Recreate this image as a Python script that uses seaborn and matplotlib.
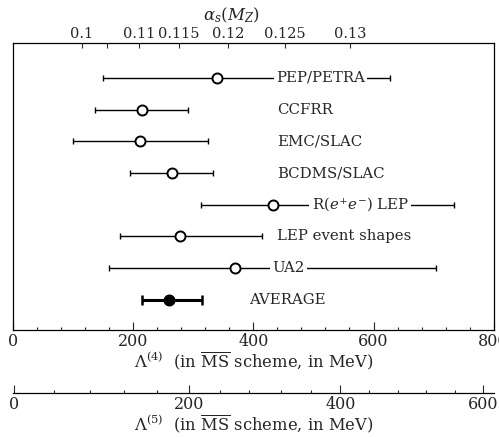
import numpy as np
import pandas as pd
import matplotlib
matplotlib.use("Agg")
import matplotlib.pyplot as plt
from matplotlib.ticker import MultipleLocator, FixedLocator, NullFormatter
import seaborn as sns

sns.set_style("white")
plt.rcParams["font.family"] = ["DejaVu Serif"]
plt.rcParams["mathtext.fontset"] = "dejavuserif"

# ---- data (Lambda^(4) in MeV) ----
experiments = ["PEP/PETRA", "CCFRR", "EMC/SLAC", "BCDMS/SLAC",
               r"R($e^{+}e^{-}$) LEP", "LEP event shapes", "UA2", "AVERAGE"]
central = [340, 214, 211, 264, 432, 277, 369, 260]
lower = [149, 136, 99, 195, 312, 178, 160, 214]
upper = [627, 291, 325, 333, 734, 415, 704, 315]
label_x = [438, 440, 440, 440, 497, 440, 432, 393]

# top axis: alpha_s(M_Z) ticks and their Lambda^(4) positions
alpha_ticks = [0.1, 0.105, 0.11, 0.115, 0.12, 0.125, 0.13]
alpha_labels = ["0.1", "", "0.11", "0.115", "0.12", "0.125", "0.13"]
alpha_pos = [114, 156, 210, 275.5, 358, 453, 561]

# Lambda^(5) axis ticks and Lambda^(4) positions
lam5_major = [0, 200, 400, 600]
lam5_major_pos = [1, 292, 545, 782]
lam5_minor_pos = [68, 128, 185, 239, 345, 393, 446, 496, 593, 640, 688, 735]

df = pd.DataFrame({"exp": experiments, "c": central, "lo": lower, "hi": upper,
                   "pos": np.arange(len(experiments))})
df["kind"] = ["open"] * 7 + ["avg"]

fig = plt.figure(figsize=(4.99, 4.37), dpi=100)
ax = fig.add_axes([0.027, 0.2449, 0.962, 0.6567])

reg = df[df.kind == "open"]
avg = df[df.kind == "avg"]

ax.errorbar(reg.c, reg.pos, xerr=[reg.c - reg.lo, reg.hi - reg.c], fmt="none",
            ecolor="black", elinewidth=1.0, capsize=2.2, capthick=1.0, zorder=1)
ax.errorbar(avg.c, avg.pos, xerr=[avg.c - avg.lo, avg.hi - avg.c], fmt="none",
            ecolor="black", elinewidth=2.2, capsize=3.5, capthick=1.8, zorder=1)

sns.scatterplot(data=reg, x="c", y="pos", ax=ax, marker="o", s=52,
                facecolor="white", edgecolor="black", linewidth=1.4, zorder=3,
                legend=False)
sns.scatterplot(data=avg, x="c", y="pos", ax=ax, marker="o", s=52,
                color="black", edgecolor="black", linewidth=1.4, zorder=3,
                legend=False)

for i, (lab, lx) in enumerate(zip(experiments, label_x)):
    ax.text(lx, i, lab, ha="left", va="center", fontsize=10.7,
            bbox=dict(boxstyle="square,pad=0.15", fc="white", ec="none"), zorder=2)

ax.set_xlim(0, 800)
ax.set_ylim(7.95, -1.1)
ax.set_yticks([])
ax.set_ylabel("")
ax.xaxis.set_major_locator(MultipleLocator(200))
ax.xaxis.set_minor_locator(MultipleLocator(40))
ax.tick_params(axis="x", which="major", direction="in", length=5.5, width=0.8,
               bottom=True, top=False, labelsize=11.5, pad=2)
ax.tick_params(axis="x", which="minor", direction="in", length=2.2, width=0.8,
               bottom=True, top=False)
ax.set_xlabel(r"$\Lambda^{(4)}$  (in $\overline{\mathrm{MS}}$ scheme, in MeV)",
              fontsize=11.8, labelpad=0)
for sp in ax.spines.values():
    sp.set_color("black")
    sp.set_linewidth(0.9)

# top alpha_s axis
axt = ax.twiny()
axt.set_xlim(0, 800)
axt.set_xticks(alpha_pos)
axt.set_xticklabels(alpha_labels)
axt.tick_params(axis="x", direction="in", length=3.5, width=0.8, labelsize=10.5,
                pad=1.5, top=True, bottom=False, labeltop=True)
axt.set_xlabel(r"$\alpha_s(M_Z)$", fontsize=12)
axt.xaxis.label.set_va("center")
axt.xaxis.set_label_coords(0.455, 1.0976)
for sp in axt.spines.values():
    sp.set_visible(False)

# Lambda^(5) axis
ax5 = fig.add_axes([0.027, 0.1014, 0.962, 0.0001])
ax5.set_xlim(0, 800)
ax5.set_yticks([])
for s in ["top", "left", "right"]:
    ax5.spines[s].set_visible(False)
ax5.spines["bottom"].set_linewidth(0.9)
ax5.spines["bottom"].set_color("black")
ax5.xaxis.set_major_locator(FixedLocator(lam5_major_pos))
ax5.set_xticklabels([str(v) for v in lam5_major])
ax5.xaxis.set_minor_locator(FixedLocator(lam5_minor_pos))
ax5.xaxis.set_minor_formatter(NullFormatter())
ax5.tick_params(axis="x", which="major", direction="in", length=6, width=0.8,
                labelsize=11.5, pad=2.5, bottom=True)
ax5.tick_params(axis="x", which="minor", direction="in", length=2.2, width=0.8,
                bottom=True)
ax5.set_xlabel(r"$\Lambda^{(5)}$  (in $\overline{\mathrm{MS}}$ scheme, in MeV)",
               fontsize=11.8, labelpad=0)
ax5.patch.set_visible(False)

fig.savefig("out.png", dpi=100)
